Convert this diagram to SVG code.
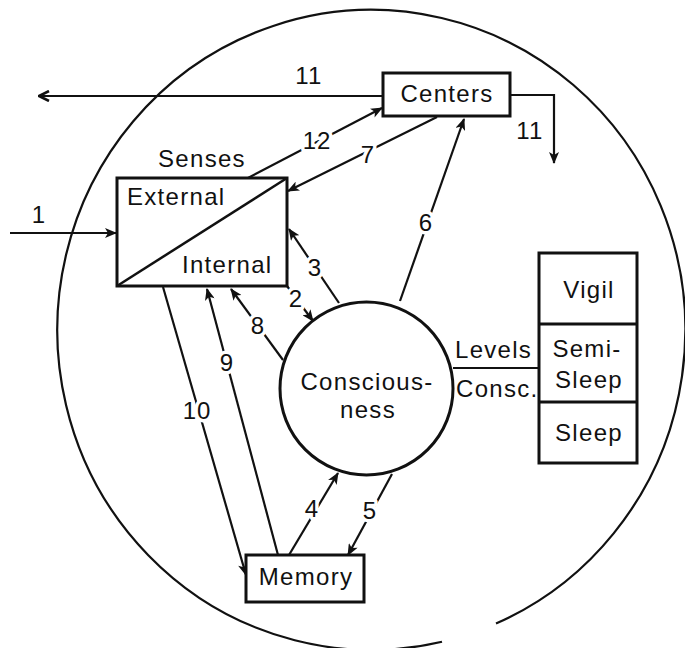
<svg xmlns="http://www.w3.org/2000/svg" width="685" height="648" viewBox="0 0 685 648">
<defs>
<style>
.t{font-family:"Liberation Sans",Arial,sans-serif;font-size:24px;letter-spacing:1.3px;fill:#111}
.m{text-anchor:middle}
.lbl{font-family:"Liberation Sans",Arial,sans-serif;font-size:24px;letter-spacing:1px;fill:#111;text-anchor:middle;stroke:#fff;stroke-width:7px;paint-order:stroke;stroke-linejoin:round}
.box{fill:#fff;stroke:#111;stroke-width:3}
.c{fill:none;stroke:#111;stroke-width:2.2}
.a{fill:none;stroke:#111;stroke-width:2.2;marker-end:url(#ah)}
</style>
<marker id="ah" viewBox="0 0 12 10" refX="11" refY="5" markerWidth="13" markerHeight="10" orient="auto" markerUnits="userSpaceOnUse">
<path d="M0,0 L12,5 L0,10 L3,5 z" fill="#111"/>
</marker>
<marker id="ao" viewBox="0 0 12 12" refX="11" refY="6" markerWidth="12" markerHeight="12" orient="auto" markerUnits="userSpaceOnUse">
<path d="M1,1 L11,6 L1,11" fill="none" stroke="#111" stroke-width="2.6"/>
</marker>
</defs>
<rect width="685" height="648" fill="#fff"/>
<g id="boundary">
<path class="c" d="M 496 623.6 A 314 320 0 1 0 442 641.7"/>
</g>
<g id="connectors">
<path class="c" d="M 383 96 L 39 96" style="marker-end:url(#ao)"/>
<path class="a" d="M 510 95 L 554 95 L 554 163"/>
<path class="a" d="M 10 233 L 116 233"/>
<path class="a" d="M 248 178 L 382 108"/>
<path class="a" d="M 437 117 L 288 191"/>
<path class="a" d="M 400 301 L 464 119"/>
<path class="a" d="M 339 303 L 289 229"/>
<path class="a" d="M 287 286 L 313 321"/>
<path class="a" d="M 283 360 L 231 289"/>
<path class="a" d="M 278 555 L 207 289"/>
<path class="a" d="M 163 287 L 246 575"/>
<path class="a" d="M 289 555 L 338 473"/>
<path class="a" d="M 392 474 L 348 555"/>
<path class="c" d="M 453 368 L 539 368"/>
<text class="t m" x="309" y="84">11</text>
<text class="t m" x="530" y="139">11</text>
<text class="t m" x="39" y="223">1</text>
<text class="lbl" x="317" y="149">12</text>
<text class="lbl" x="368" y="163">7</text>
<text class="lbl" x="426" y="231">6</text>
<text class="lbl" x="315" y="276">3</text>
<text class="lbl" x="296" y="307">2</text>
<text class="lbl" x="258" y="334">8</text>
<text class="lbl" x="227" y="371">9</text>
<text class="lbl" x="197" y="419">10</text>
<text class="lbl" x="312" y="517">4</text>
<text class="lbl" x="370" y="519">5</text>
<text class="t" x="455" y="358">Levels</text>
<text class="t" x="456" y="397">Consc.</text>
</g>
<g id="senses">
<rect class="box" x="117" y="178" width="170" height="108"/>
<path class="c" d="M 117 286 L 287 178" style="stroke-width:2.5"/>
<text class="t m" x="202" y="167">Senses</text>
<text class="t" x="127" y="205">External</text>
<text class="t" x="182" y="273">Internal</text>
</g>
<g id="centers">
<rect class="box" x="383" y="73" width="127" height="43"/>
<text class="t m" x="447" y="102">Centers</text>
</g>
<g id="consciousness">
<circle cx="366.5" cy="388.5" r="86.5" fill="#fff" stroke="#111" stroke-width="3"/>
<text class="t m" x="367" y="390">Conscious-</text>
<text class="t m" x="368" y="418">ness</text>
</g>
<g id="memory">
<rect class="box" x="246" y="555" width="118" height="47"/>
<text class="t m" x="306" y="585">Memory</text>
</g>
<g id="levels">
<rect class="box" x="539" y="253" width="98" height="210"/>
<path class="c" d="M 539 324 L 637 324 M 539 402 L 637 402" style="stroke-width:3"/>
<text class="t m" x="589" y="298">Vigil</text>
<text class="t m" x="587" y="357">Semi-</text>
<text class="t m" x="589" y="388">Sleep</text>
<text class="t m" x="589" y="441">Sleep</text>
</g>
</svg>
